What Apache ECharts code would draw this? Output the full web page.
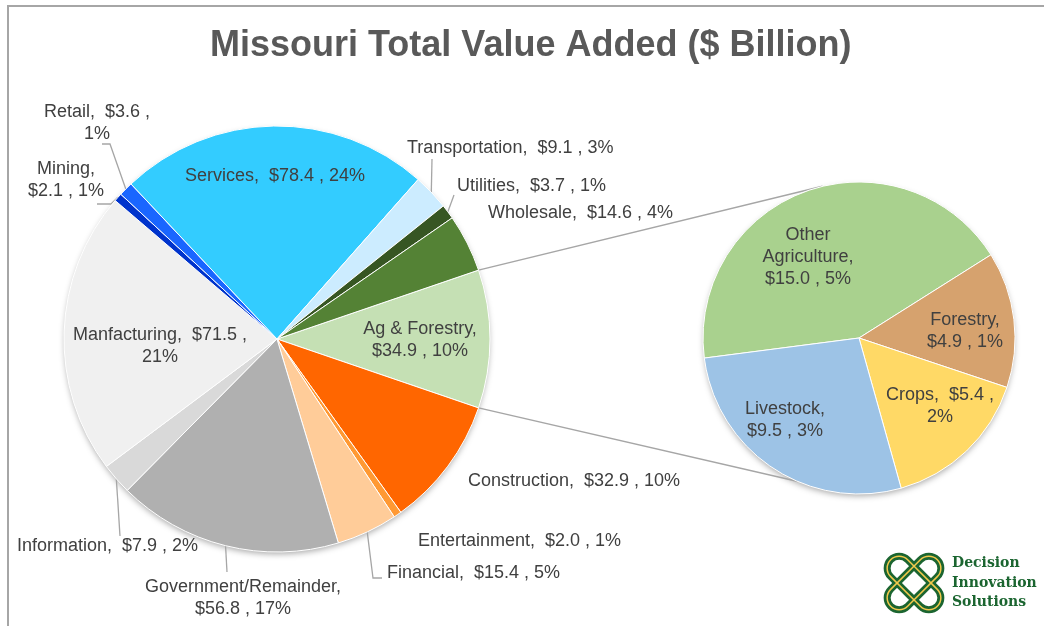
<!DOCTYPE html>
<html>
<head>
<meta charset="utf-8">
<title>Missouri Total Value Added</title>
<script src="https://cdn.jsdelivr.net/npm/echarts@6/dist/echarts.min.js"></script>
<style>
  html, body { margin: 0; padding: 0; background: #ffffff; }
  #chart { width: 1044px; height: 626px; }
</style>
</head>
<body>
<div id="chart"></div>
<script>
// Sectors of the main pie, clockwise starting from the split-out Ag & Forestry slice
const sectors = ['Ag & Forestry', 'Construction', 'Entertainment', 'Financial', 'Government/Remainder',
  'Information', 'Manfacturing', 'Mining', 'Retail', 'Services', 'Transportation', 'Utilities', 'Wholesale'];
const sectorValues = [34.9, 32.9, 2.0, 15.4, 56.8, 7.9, 71.5, 2.1, 3.6, 78.4, 9.1, 3.7, 14.6];

// Breakdown of Ag & Forestry shown in the side pie
const agParts = ['Other Agriculture', 'Forestry', 'Crops', 'Livestock'];
const agValues = [15.0, 4.9, 5.4, 9.5];

const sectorColors = ['#C5E0B4', '#FF6600', '#FF9933', '#FFCC99', '#B0B0B0', '#D9D9D9', '#F0F0F0',
  '#0033CC', '#1A66FF', '#33CCFF', '#CCECFF', '#375623', '#548235'];
const agColors = ['#A9D18E', '#D6A26E', '#FFD966', '#9DC3E6'];

const FONT = '"Liberation Sans", Arial, sans-serif';
const TEXT = '#404040';
const LINE = '#A6A6A6';
const BRAND = '#1B6530';

// Pie geometry
const MAIN = { cx: 277, cy: 339, r: 213 };
const SIDE = { cx: 859, cy: 338, r: 156, start: 187.4, attachTop: 103.5, attachBottom: -113 };

const total = sectorValues.reduce((a, b) => a + b, 0);
const mainStart = sectorValues[0] / total * 180;   // split slice centred on 3 o'clock

const pct = v => Math.round(v / total * 100) + '%';
const money = v => '$' + v.toFixed(1);
function labelText(name, v, wrap) {
  const head = wrap === 'words' ? name.replace(/ /g, '\n') : name;
  if (wrap === 'name' || wrap === 'words') return head + ',\n' + money(v) + ' , ' + pct(v);
  if (wrap === 'pct') return head + ',  ' + money(v) + ' ,\n' + pct(v);
  return head + ',  ' + money(v) + ' , ' + pct(v);
}

// Label placement for the main pie (same order as sectors)
const mainLabelSpots = [
  { at: [420, 340], align: 'center', wrap: 'name' },
  { at: [468, 481], align: 'left', wrap: 'one' },
  { at: [418, 541], align: 'left', wrap: 'one' },
  { at: [387, 573], align: 'left', wrap: 'one', bend: [[373, 578], [382, 578]] },
  { at: [243, 598], align: 'center', wrap: 'name', bend: [[227, 572]] },
  { at: [17, 546], align: 'left', wrap: 'one', bend: [[120, 536]] },
  { at: [160, 346], align: 'center', wrap: 'pct' },
  { at: [66, 180], align: 'center', wrap: 'name', bend: [[111, 204], [97, 204]] },
  { at: [97, 123], align: 'center', wrap: 'pct', bend: [[110, 144], [102, 144]] },
  { at: [275, 176], align: 'center', wrap: 'one' },
  { at: [407, 148], align: 'left', wrap: 'one', bend: [[432, 159]] },
  { at: [457, 186], align: 'left', wrap: 'one', bend: [[454, 195]] },
  { at: [488, 213], align: 'left', wrap: 'one' }
];
// Label placement for the side pie
const agLabelSpots = [
  { at: [808, 257], align: 'center', wrap: 'words' },
  { at: [965, 331], align: 'center', wrap: 'name' },
  { at: [940, 406], align: 'center', wrap: 'pct' },
  { at: [785, 420], align: 'center', wrap: 'name' }
];

// Edge point of a main-pie slice at its middle angle
function mainEdge(i) {
  let before = 0;
  for (let k = 0; k < i; k++) before += sectorValues[k];
  const mid = (mainStart - 360 * (before + sectorValues[i] / 2) / total) * Math.PI / 180;
  return [MAIN.cx + MAIN.r * Math.cos(mid), MAIN.cy - MAIN.r * Math.sin(mid)];
}
function polar(c, deg) {
  const a = deg * Math.PI / 180;
  return [c.cx + c.r * Math.cos(a), c.cy - c.r * Math.sin(a)];
}

const mainData = sectors.map((name, i) => ({
  name, value: sectorValues[i],
  itemStyle: { color: sectorColors[i] },
  label: { formatter: labelText(name, sectorValues[i], mainLabelSpots[i].wrap) },
  labelLine: { show: !!mainLabelSpots[i].bend }
}));
const agData = agParts.map((name, i) => ({
  name, value: agValues[i],
  itemStyle: { color: agColors[i] },
  label: { formatter: labelText(name, agValues[i], agLabelSpots[i].wrap) },
  labelLine: { show: false }
}));

const labelBase = {
  show: true, position: 'outside', color: TEXT, fontFamily: FONT,
  fontSize: 18, lineHeight: 22
};

// Connector lines from the split slice to the side pie
const splitTop = polar(MAIN, mainStart);
const splitBottom = polar(MAIN, -mainStart);
const sideTop = polar(SIDE, SIDE.attachTop);
const sideBottom = polar(SIDE, SIDE.attachBottom);

// Knot mark: two crossing rounded bands with a gold inlay
const knotBand = (rot, stroke, width) => ({
  type: 'rect', rotation: rot, shape: { x: -33, y: -12, width: 66, height: 24, r: 12 },
  style: { fill: 'none', stroke: stroke, lineWidth: width }
});

const chart = echarts.init(document.getElementById('chart'), null, { renderer: 'canvas' });
chart.setOption({
  animation: false,
  backgroundColor: '#ffffff',
  title: {
    text: 'Missouri Total Value Added ($ Billion)',
    left: 205, top: 23,
    textStyle: { fontFamily: FONT, fontSize: 36, fontWeight: 'bold', color: '#595959' }
  },
  graphic: [
    { type: 'rect', silent: true, shape: { x: 8, y: 6, width: 1200, height: 800 },
      style: { fill: 'none', stroke: '#A6A6A6', lineWidth: 2 } },
    { type: 'circle', silent: true, shape: { cx: MAIN.cx, cy: MAIN.cy, r: MAIN.r - 1 },
      style: { fill: '#ffffff', shadowBlur: 6, shadowOffsetY: 3, shadowColor: 'rgba(0,0,0,0.35)' } },
    { type: 'circle', silent: true, shape: { cx: SIDE.cx, cy: SIDE.cy, r: SIDE.r - 1 },
      style: { fill: '#ffffff', shadowBlur: 6, shadowOffsetY: 3, shadowColor: 'rgba(0,0,0,0.35)' } },
    { type: 'line', silent: true,
      shape: { x1: splitTop[0], y1: splitTop[1], x2: sideTop[0], y2: sideTop[1] },
      style: { stroke: LINE, lineWidth: 1.5 } },
    { type: 'line', silent: true,
      shape: { x1: splitBottom[0], y1: splitBottom[1], x2: sideBottom[0], y2: sideBottom[1] },
      style: { stroke: LINE, lineWidth: 1.5 } },
    { type: 'group', x: 914, y: 583, silent: true, children: [
      knotBand(Math.PI / 4, BRAND, 7),
      knotBand(-Math.PI / 4, BRAND, 7),
      knotBand(Math.PI / 4, '#F2C94C', 1.5),
      knotBand(-Math.PI / 4, '#F2C94C', 1.5)
    ] },
    { type: 'text', silent: true, style: { text: 'Decision', x: 952, y: 563, fill: BRAND,
      font: 'bold 14px "DejaVu Serif", serif', verticalAlign: 'middle' } },
    { type: 'text', silent: true, style: { text: 'Innovation', x: 952, y: 583, fill: BRAND,
      font: 'bold 14px "DejaVu Serif", serif', verticalAlign: 'middle' } },
    { type: 'text', silent: true, style: { text: 'Solutions', x: 952, y: 602, fill: BRAND,
      font: 'bold 14px "DejaVu Serif", serif', verticalAlign: 'middle' } }
  ],
  series: [
    {
      type: 'pie', name: 'Value Added',
      center: [MAIN.cx, MAIN.cy], radius: MAIN.r,
      startAngle: mainStart, clockwise: true,
      avoidLabelOverlap: false,
      itemStyle: { borderColor: '#ffffff', borderWidth: 1 },
      label: labelBase,
      labelLine: { show: true, lineStyle: { color: LINE, width: 1.3 } },
      emphasis: { disabled: true },
      labelLayout: function (p) {
        const spot = mainLabelSpots[p.dataIndex];
        const out = { x: spot.at[0], y: spot.at[1], align: spot.align, verticalAlign: 'middle' };
        if (spot.bend) out.labelLinePoints = [mainEdge(p.dataIndex)].concat(spot.bend);
        return out;
      },
      data: mainData
    },
    {
      type: 'pie', name: 'Ag & Forestry',
      center: [SIDE.cx, SIDE.cy], radius: SIDE.r,
      startAngle: SIDE.start, clockwise: true,
      avoidLabelOverlap: false,
      itemStyle: { borderColor: '#ffffff', borderWidth: 1 },
      label: labelBase,
      labelLine: { show: false },
      emphasis: { disabled: true },
      labelLayout: function (p) {
        const spot = agLabelSpots[p.dataIndex];
        return { x: spot.at[0], y: spot.at[1], align: spot.align, verticalAlign: 'middle' };
      },
      data: agData
    }
  ]
});
</script>
</body>
</html>
